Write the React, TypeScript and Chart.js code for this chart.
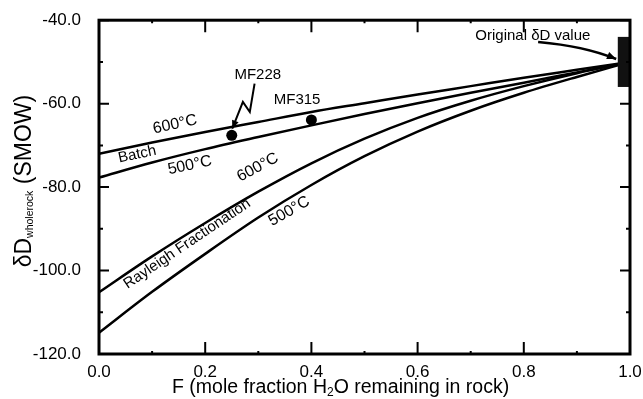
import React, { useEffect, useRef } from 'react';
import { Chart, registerables } from 'chart.js';

Chart.register(...registerables);

// ---- data ----
const F_VALUES = [0, 0.1, 0.2, 0.3, 0.4, 0.5, 0.6, 0.7, 0.8, 0.9, 1.0];
const BATCH_600 = [-72.0, -69.3, -66.8, -64.4, -62.0, -59.9, -57.8, -55.8, -53.8, -51.9, -50.0];
const BATCH_500 = [-77.7, -74.1, -70.9, -68.0, -65.2, -62.5, -59.9, -57.4, -55.0, -52.5, -50.0];
const RAYLEIGH_600 = [-105.2, -96.6, -88.6, -81.1, -74.3, -68.4, -63.4, -59.3, -55.8, -52.7, -50.0];
const RAYLEIGH_500 = [-114.9, -105.1, -96.0, -87.3, -79.5, -72.6, -66.7, -61.7, -57.4, -53.6, -50.0];

const SAMPLE_NAMES = ['MF228', 'MF315'];
const SAMPLE_F = [0.25, 0.4];
const SAMPLE_DD = [-67.6, -63.9];

const ORIGINAL_F_RANGE = [0.977, 1.0];
const ORIGINAL_DD_RANGE = [-44.0, -56.0];

const X_MIN = 0;
const X_MAX = 1;
const X_STEP = 0.2;
const Y_MIN = -120;
const Y_MAX = -40;
const Y_STEP = 20;

const X_TITLE_PARTS = ['F (mole fraction H', '2', 'O remaining in rock)'];
const Y_TITLE_PARTS = ['δD', 'wholerock', ' (SMOW)'];

// text annotations, positioned in data coordinates
const CURVE_LABELS = [
  { text: '600°C', f: 0.143, d: -65.0, angle: -12, size: 16 },
  { text: 'Batch', f: 0.072, d: -72.2, angle: -12, size: 15 },
  { text: '500°C', f: 0.171, d: -74.8, angle: -12, size: 16 },
  { text: '600°C', f: 0.299, d: -75.3, angle: -28, size: 16 },
  { text: '500°C', f: 0.358, d: -85.8, angle: -30, size: 16 },
  { text: 'Rayleigh Fractionation', f: 0.166, d: -93.6, angle: -34, size: 15 },
];
const SAMPLE_LABEL_POS = [
  { f: 0.299, d: -53.1 },
  { f: 0.373, d: -59.2 },
];
const ORIGINAL_LABEL = { text: 'Original δD value', f: 0.817, d: -43.8 };
const MF228_ARROW_F = [0.293, 0.284, 0.271, 0.251];
const MF228_ARROW_D = [-55.2, -62.0, -59.6, -66.0];
const ORIGINAL_ARROW_F = [0.827, 0.915, 0.974];
const ORIGINAL_ARROW_D = [-45.2, -46.2, -49.3];

const FONT = "Arial, 'Liberation Sans', Helvetica, sans-serif";

function toPoints(ys: number[]) {
  return F_VALUES.map((x, i) => ({ x, y: ys[i] }));
}

function arrowHead(ctx: CanvasRenderingContext2D, x0: number, y0: number, x1: number, y1: number, len: number) {
  const ang = Math.atan2(y1 - y0, x1 - x0);
  ctx.beginPath();
  ctx.moveTo(x1, y1);
  ctx.lineTo(x1 - len * Math.cos(ang - 0.4), y1 - len * Math.sin(ang - 0.4));
  ctx.lineTo(x1 - len * Math.cos(ang + 0.4), y1 - len * Math.sin(ang + 0.4));
  ctx.closePath();
  ctx.fill();
}

const overlayPlugin = {
  id: 'overlay',
  afterDatasetsDraw(chart: any) {
    const { ctx, chartArea: a, scales } = chart;
    const px = (v: number) => scales.x.getPixelForValue(v);
    const py = (v: number) => scales.y.getPixelForValue(v);
    ctx.save();

    // original dD box
    ctx.fillStyle = '#111';
    const rx0 = px(ORIGINAL_F_RANGE[0]);
    const rx1 = px(ORIGINAL_F_RANGE[1]);
    const ry0 = py(ORIGINAL_DD_RANGE[0]);
    const ry1 = py(ORIGINAL_DD_RANGE[1]);
    ctx.fillRect(rx0, ry0, rx1 - rx0, ry1 - ry0);

    // frame
    ctx.strokeStyle = '#000';
    ctx.lineWidth = 3;
    ctx.strokeRect(a.left, a.top, a.right - a.left, a.bottom - a.top);

    // inward ticks
    ctx.lineWidth = 2;
    ctx.beginPath();
    for (let v = X_MIN; v <= X_MAX + 1e-9; v += X_STEP / 2) {
      const major = Math.abs(Math.round(v / X_STEP) * X_STEP - v) < 1e-6;
      const len = major ? 12 : 3;
      const x = px(v);
      ctx.moveTo(x, a.bottom);
      ctx.lineTo(x, a.bottom - len);
      ctx.moveTo(x, a.top);
      ctx.lineTo(x, a.top + len);
    }
    for (let v = Y_MIN; v <= Y_MAX + 1e-9; v += Y_STEP / 2) {
      const major = Math.abs(Math.round(v / Y_STEP) * Y_STEP - v) < 1e-6;
      const len = major ? 10 : 4;
      const y = py(v);
      ctx.moveTo(a.left, y);
      ctx.lineTo(a.left + len, y);
      ctx.moveTo(a.right, y);
      ctx.lineTo(a.right - len, y);
    }
    ctx.stroke();

    // curve labels
    ctx.fillStyle = '#000';
    ctx.textAlign = 'center';
    ctx.textBaseline = 'middle';
    CURVE_LABELS.forEach((l) => {
      ctx.save();
      ctx.translate(px(l.f), py(l.d));
      ctx.rotate((l.angle * Math.PI) / 180);
      ctx.font = `${l.size}px ${FONT}`;
      ctx.fillText(l.text, 0, 0);
      ctx.restore();
    });

    // sample labels
    ctx.font = `15px ${FONT}`;
    SAMPLE_NAMES.forEach((name, i) => {
      ctx.fillText(name, px(SAMPLE_LABEL_POS[i].f), py(SAMPLE_LABEL_POS[i].d));
    });
    ctx.fillText(ORIGINAL_LABEL.text, px(ORIGINAL_LABEL.f), py(ORIGINAL_LABEL.d));

    // MF228 zig-zag arrow
    ctx.lineWidth = 2;
    ctx.beginPath();
    MF228_ARROW_F.forEach((f, i) => {
      const x = px(f);
      const y = py(MF228_ARROW_D[i]);
      if (i === 0) ctx.moveTo(x, y);
      else ctx.lineTo(x, y);
    });
    ctx.stroke();
    const n = MF228_ARROW_F.length;
    arrowHead(
      ctx,
      px(MF228_ARROW_F[n - 2]), py(MF228_ARROW_D[n - 2]),
      px(MF228_ARROW_F[n - 1]), py(MF228_ARROW_D[n - 1]),
      9
    );

    // original value arrow
    ctx.lineWidth = 2.5;
    ctx.beginPath();
    ctx.moveTo(px(ORIGINAL_ARROW_F[0]), py(ORIGINAL_ARROW_D[0]));
    ctx.quadraticCurveTo(
      px(ORIGINAL_ARROW_F[1]), py(ORIGINAL_ARROW_D[1]),
      px(ORIGINAL_ARROW_F[2]), py(ORIGINAL_ARROW_D[2])
    );
    ctx.stroke();
    arrowHead(
      ctx,
      px(ORIGINAL_ARROW_F[1]), py(ORIGINAL_ARROW_D[1]),
      px(ORIGINAL_ARROW_F[2]), py(ORIGINAL_ARROW_D[2]),
      10
    );

    // x title with subscript
    ctx.textAlign = 'left';
    ctx.textBaseline = 'alphabetic';
    const big = `19.5px ${FONT}`;
    const small = `12px ${FONT}`;
    ctx.font = big;
    const w1 = ctx.measureText(X_TITLE_PARTS[0]).width;
    const w3 = ctx.measureText(X_TITLE_PARTS[2]).width;
    ctx.font = small;
    const w2 = ctx.measureText(X_TITLE_PARTS[1]).width;
    const total = w1 + w2 + w3;
    const cx = px(0.455);
    const by = a.bottom + 39;
    let x0 = cx - total / 2;
    ctx.font = big;
    ctx.fillText(X_TITLE_PARTS[0], x0, by);
    x0 += w1;
    ctx.font = small;
    ctx.fillText(X_TITLE_PARTS[1], x0, by + 3);
    x0 += w2;
    ctx.font = big;
    ctx.fillText(X_TITLE_PARTS[2], x0, by);

    // y title with subscript
    ctx.save();
    ctx.translate(31, (a.top + a.bottom) / 2 - 6);
    ctx.rotate(-Math.PI / 2);
    const ybig = `23px ${FONT}`;
    const ysmall = `10.5px ${FONT}`;
    ctx.font = ybig;
    const u1 = ctx.measureText(Y_TITLE_PARTS[0]).width;
    const u3 = ctx.measureText(Y_TITLE_PARTS[2]).width;
    ctx.font = ysmall;
    const u2 = ctx.measureText(Y_TITLE_PARTS[1]).width;
    let t0 = -(u1 + u2 + u3) / 2;
    ctx.font = ybig;
    ctx.fillText(Y_TITLE_PARTS[0], t0, 0);
    t0 += u1;
    ctx.font = ysmall;
    ctx.fillText(Y_TITLE_PARTS[1], t0, 2);
    t0 += u2;
    ctx.font = ybig;
    ctx.fillText(Y_TITLE_PARTS[2], t0, 0);
    ctx.restore();

    ctx.restore();
  },
};

export default function App() {
  const ref = useRef<HTMLCanvasElement | null>(null);

  useEffect(() => {
    document.body.style.margin = '0';
    const canvas = ref.current;
    if (!canvas) return;
    const lineDs = (label: string, ys: number[]) => ({
      label,
      data: toPoints(ys),
      showLine: true,
      borderColor: '#000',
      backgroundColor: '#000',
      borderWidth: 2.5,
      pointRadius: 0,
      cubicInterpolationMode: 'monotone' as const,
    });
    const chart = new Chart(canvas, {
      type: 'scatter',
      data: {
        datasets: [
          lineDs('Batch 600°C', BATCH_600),
          lineDs('Batch 500°C', BATCH_500),
          lineDs('Rayleigh 600°C', RAYLEIGH_600),
          lineDs('Rayleigh 500°C', RAYLEIGH_500),
          {
            label: 'Samples',
            data: SAMPLE_F.map((x, i) => ({ x, y: SAMPLE_DD[i] })),
            showLine: false,
            pointRadius: 5.5,
            pointBackgroundColor: '#000',
            pointBorderColor: '#000',
            borderWidth: 0,
          },
        ],
      },
      options: {
        responsive: false,
        animation: false,
        events: [],
        layout: { padding: { top: 17, right: 13, left: 0, bottom: 0 } },
        plugins: {
          legend: { display: false },
          tooltip: { enabled: false },
          title: { display: false },
        },
        scales: {
          x: {
            type: 'linear',
            min: X_MIN,
            max: X_MAX,
            grid: { display: false },
            border: { display: false },
            ticks: {
              stepSize: X_STEP,
              color: '#000',
              font: { size: 17, family: FONT },
              padding: 0,
              maxRotation: 0,
              callback: (v: any) => Number(v).toFixed(1),
            },
            afterFit: (s: any) => {
              s.height = 45;
            },
          },
          y: {
            type: 'linear',
            min: Y_MIN,
            max: Y_MAX,
            grid: { display: false },
            border: { display: false },
            ticks: {
              stepSize: Y_STEP,
              color: '#000',
              font: { size: 17, family: FONT },
              padding: 10,
              callback: (v: any) => Number(v).toFixed(1),
            },
            afterFit: (s: any) => {
              s.width = 99;
            },
          },
        },
      },
      plugins: [overlayPlugin],
    });
    return () => chart.destroy();
  }, []);

  return <canvas ref={ref} width={643} height={399} style={{ display: 'block' }} />;
}
